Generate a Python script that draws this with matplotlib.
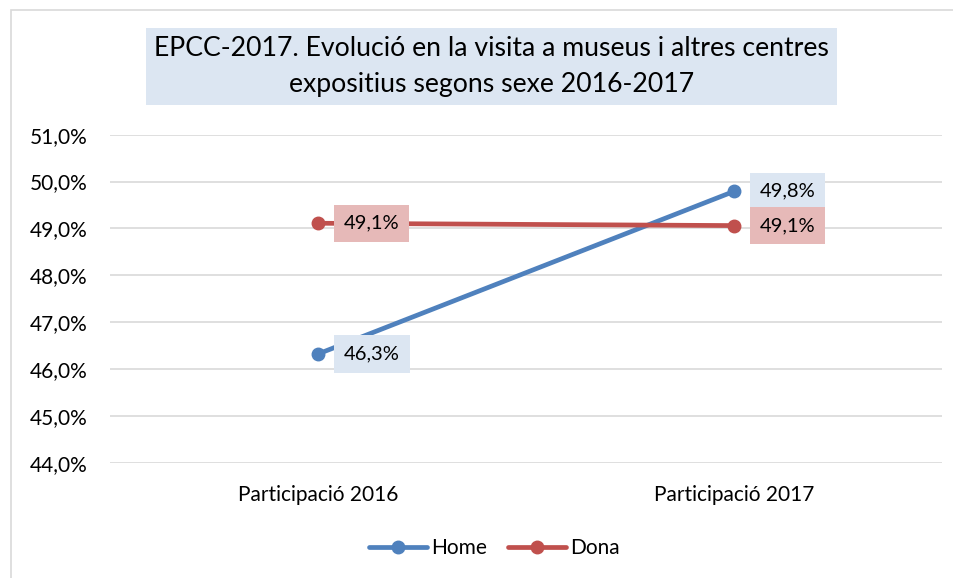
import matplotlib.pyplot as plt
from matplotlib.patches import Rectangle
from matplotlib.ticker import FuncFormatter

plt.rcParams['font.family'] = ['Lato', 'DejaVu Sans']

categories = ['Participació 2016', 'Participació 2017']
home = [46.32, 49.79]
dona = [49.11, 49.06]
home_labels = ['46,3%', '49,8%']
dona_labels = ['49,1%', '49,1%']

col_home = '#4f81bd'
col_dona = '#c0504d'

fig = plt.figure(figsize=(9.54, 5.78), dpi=100)
ax = fig.add_axes([0.1153, 0.1995, 0.8721, 0.5675])

# marc del grafic
fig.patches.append(Rectangle((11 / 954, -0.01), 1.0, 1 - 10 / 578 + 0.01,
                             transform=fig.transFigure, fill=False,
                             edgecolor='#d9d9d9', linewidth=1.2))

x = [0, 1]
ax.plot(x, home, color=col_home, linewidth=3.4, marker='o', markersize=9,
        solid_capstyle='round', label='Home', zorder=3)
ax.plot(x, dona, color=col_dona, linewidth=3.4, marker='o', markersize=9,
        solid_capstyle='round', label='Dona', zorder=3)

for i in range(2):
    ax.annotate(home_labels[i], (x[i], home[i]), xytext=(18.5, 0),
                textcoords='offset points', va='center', ha='left',
                fontsize=14.5, zorder=4,
                bbox=dict(boxstyle='square,pad=0.5', facecolor='#dce6f2',
                          edgecolor='none'))
    ax.annotate(dona_labels[i], (x[i], dona[i]), xytext=(18.5, 0),
                textcoords='offset points', va='center', ha='left',
                fontsize=14.5, zorder=4,
                bbox=dict(boxstyle='square,pad=0.5', facecolor='#e6b9b8',
                          edgecolor='none'))

ax.set_xlim(-0.5, 1.5)
ax.set_ylim(44, 51)
ax.set_yticks(range(44, 52))
ax.yaxis.set_major_formatter(FuncFormatter(lambda v, p: ('%.1f%%' % v).replace('.', ',')))
ax.set_xticks(x)
ax.set_xticklabels(categories)
ax.tick_params(axis='both', length=0, labelsize=15, colors='#000000')
ax.tick_params(axis='y', pad=16)
ax.tick_params(axis='x', pad=16)
ax.grid(axis='y', color='#d9d9d9', linewidth=1.2)
ax.set_axisbelow(True)
for s in ax.spines.values():
    s.set_visible(False)

fig.text(0.515, 0.885,
         'EPCC-2017. Evolució en la visita a museus i altres centres\nexpositius segons sexe 2016-2017',
         ha='center', va='center', fontsize=19.2, linespacing=1.58,
         bbox=dict(boxstyle='square,pad=0.3', facecolor='#dce6f2', edgecolor='none'))

fig.legend(loc='center', bbox_to_anchor=(0.518, 0.052), ncol=2, frameon=False,
           fontsize=15, handlelength=2.8, handletextpad=0.2, columnspacing=1.0)

fig.savefig('out.png', dpi=100)
